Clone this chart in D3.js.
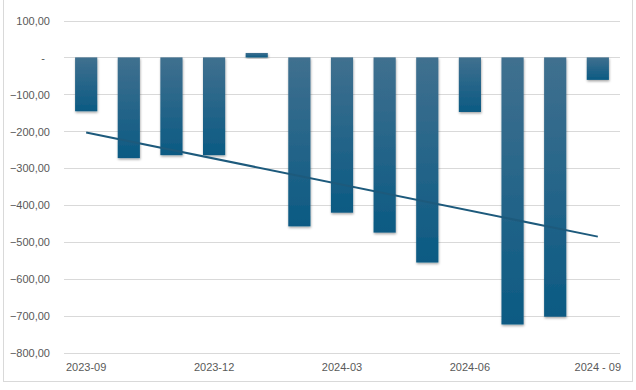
<!DOCTYPE html>
<html><head><meta charset="utf-8">
<script src="https://cdn.jsdelivr.net/npm/d3@7"></script>
<style>body{margin:0;background:#fff;} text{font-family:"Liberation Sans",Arial,sans-serif;}</style>
</head><body><svg id="c" width="636" height="390"></svg>
<script>
const categories = ["2023-09","2023-10","2023-11","2023-12","2024-01","2024-02","2024-03","2024-04","2024-05","2024-06","2024-07","2024-08","2024-09"];
const values = [-146,-273,-265,-265,12,-458,-421,-475,-556,-148,-724,-703,-61];
const tickLabels = {"2023-09":"2023-09","2023-12":"2023-12","2024-03":"2024-03","2024-06":"2024-06","2024-09":"2024 - 09"};
const yTicks = [100,0,-100,-200,-300,-400,-500,-600,-700,-800];

(function(){
const svg = d3.select("#c");
const pLeft = 64, pRight = 620, pTop = 20.5, pBottom = 352.5;

// chart border
svg.append("rect").attr("x",3.5).attr("y",-1).attr("width",629).attr("height",382.5)
  .attr("fill","#fff").attr("stroke","#d9d9d9");

const x = d3.scaleBand().domain(categories).range([pLeft,pRight]).paddingInner(0.48).paddingOuter(0.26);
const y = d3.scaleLinear().domain([-800,100]).range([pBottom,pTop]);

const defs = svg.append("defs");
const g = defs.append("linearGradient").attr("id","bg").attr("x1",0).attr("y1",0).attr("x2",0).attr("y2",1);
g.append("stop").attr("offset","0%").attr("stop-color","#40708f");
g.append("stop").attr("offset","100%").attr("stop-color","#0b5a83");
const f = defs.append("filter").attr("id","sh").attr("x","-30%").attr("y","-10%").attr("width","160%").attr("height","130%");
f.append("feDropShadow").attr("dx",0.5).attr("dy",1.5).attr("stdDeviation",1.2).attr("flood-color","#000").attr("flood-opacity",0.35);

// gridlines
svg.append("g").selectAll("line").data(yTicks.filter(d=>d!==-800)).join("line")
  .attr("x1",pLeft).attr("x2",pRight).attr("y1",d=>Math.round(y(d))+0.5).attr("y2",d=>Math.round(y(d))+0.5)
  .attr("stroke","#d9d9d9").attr("stroke-width",1);

// y axis labels
const fmt = d => d===0 ? "-" : d3.format(".2f")(d).replace(".",",");
const yAxis = d3.axisLeft(y).tickValues(yTicks).tickSize(0).tickPadding(0).tickFormat(fmt);
const ya = svg.append("g").attr("transform",`translate(${pLeft-14},0)`).call(yAxis);
ya.select(".domain").remove();
ya.selectAll("text").attr("fill","#595959").style("font-size","11px").attr("dy","0.35em")
  .attr("dx", d=>d===0? -5 : 0);

// bars
svg.append("g").selectAll("rect").data(values).join("rect")
  .attr("x",(d,i)=>x(categories[i]))
  .attr("width",x.bandwidth())
  .attr("y",d=>y(Math.max(0,d)))
  .attr("height",d=>Math.abs(y(d)-y(0)))
  .attr("fill","url(#bg)").attr("filter","url(#sh)");

// bottom axis line
svg.append("line").attr("x1",pLeft).attr("x2",pRight).attr("y1",Math.round(y(-800))+0.5).attr("y2",Math.round(y(-800))+0.5)
  .attr("stroke","#d9d9d9");

// x labels
const xAxis = d3.axisBottom(x).tickValues(Object.keys(tickLabels)).tickSize(0).tickPadding(0).tickFormat(d=>tickLabels[d]);
const xa = svg.append("g").attr("transform",`translate(0,${pBottom+15})`).call(xAxis);
xa.select(".domain").remove();
xa.selectAll("text").attr("fill","#595959").style("font-size","11px").attr("dy","0.35em");

// linear trendline (least squares of the series)
const n = values.length;
const xs = d3.range(n);
const mx = d3.mean(xs), my = d3.mean(values);
const slope = d3.sum(xs,(xi)=> (xi-mx)*(values[xi]-my)) / d3.sum(xs,xi=>(xi-mx)*(xi-mx));
const icpt = my - slope*mx;
const trend = [0,n-1].map(i=>[x(categories[i])+x.bandwidth()/2, y(icpt+slope*i)]);
svg.append("path").attr("d",d3.line()(trend)).attr("stroke","#1d5a7c").attr("stroke-width",2).attr("fill","none");
})();
</script></body></html>
